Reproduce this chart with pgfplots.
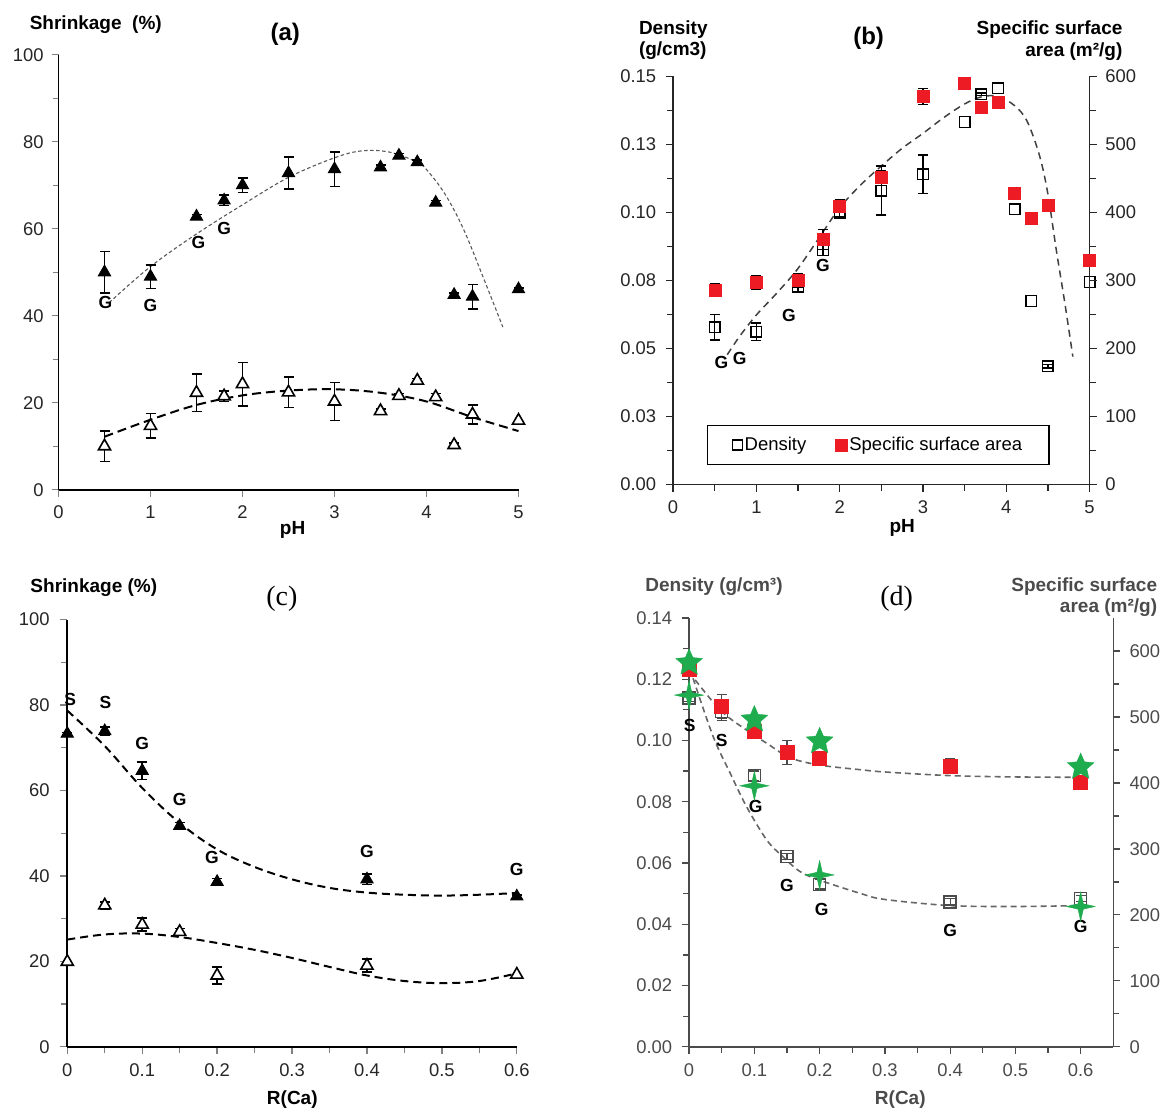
\documentclass[border=0pt]{standalone}
\usepackage{fontspec}
\setmainfont{Liberation Sans}
\newfontfamily\timesf{Liberation Serif}
\usepackage{pgfplots}
\pgfplotsset{compat=1.18}
\definecolor{ssared}{RGB}{237,28,36}
\definecolor{stargreen}{RGB}{30,172,78}
\definecolor{axgray}{RGB}{75,75,75}

\newcommand\tkf{\fontsize{18.4}{20}\selectfont}
\newcommand\ttl{\fontsize{19}{22}\selectfont\bfseries}
\newcommand\glf{\fontsize{17.5}{20}\selectfont\bfseries}
\newcommand\lgf{\fontsize{18.5}{21}\selectfont}

\pgfdeclareplotmark{fivestar}{%
  \pgfmathsetlengthmacro\pgfstarin{0.46*\pgfplotmarksize}%
  \pgfpathmoveto{\pgfpointpolar{90}{\pgfplotmarksize}}%
  \pgfpathlineto{\pgfpointpolar{126}{\pgfstarin}}%
  \pgfpathlineto{\pgfpointpolar{162}{\pgfplotmarksize}}%
  \pgfpathlineto{\pgfpointpolar{198}{\pgfstarin}}%
  \pgfpathlineto{\pgfpointpolar{234}{\pgfplotmarksize}}%
  \pgfpathlineto{\pgfpointpolar{270}{\pgfstarin}}%
  \pgfpathlineto{\pgfpointpolar{306}{\pgfplotmarksize}}%
  \pgfpathlineto{\pgfpointpolar{342}{\pgfstarin}}%
  \pgfpathlineto{\pgfpointpolar{18}{\pgfplotmarksize}}%
  \pgfpathlineto{\pgfpointpolar{54}{\pgfstarin}}%
  \pgfpathclose
  \pgfusepathqfillstroke}
\pgfdeclareplotmark{fourstar}{%
  \pgfmathsetlengthmacro\pgfstarin{0.26*\pgfplotmarksize}%
  \pgfpathmoveto{\pgfpointpolar{90}{\pgfplotmarksize}}%
  \pgfpathlineto{\pgfpointpolar{135}{\pgfstarin}}%
  \pgfpathlineto{\pgfpointpolar{180}{\pgfplotmarksize}}%
  \pgfpathlineto{\pgfpointpolar{225}{\pgfstarin}}%
  \pgfpathlineto{\pgfpointpolar{270}{\pgfplotmarksize}}%
  \pgfpathlineto{\pgfpointpolar{315}{\pgfstarin}}%
  \pgfpathlineto{\pgfpointpolar{0}{\pgfplotmarksize}}%
  \pgfpathlineto{\pgfpointpolar{45}{\pgfstarin}}%
  \pgfpathclose
  \pgfusepathqfillstroke}

\tikzset{gl/.style={font=\glf, inner sep=0pt}}
\pgfplotsset{
  panel/.style={
    scale only axis, enlargelimits=false, clip=false, anchor=south west,
    axis line style={line width=1.6pt},
    tick align=outside, major tick length=7pt, minor tick length=6pt,
    tick style={line width=1.3pt},
    tick label style={font=\tkf, text=black!85, inner sep=0pt},
    xticklabel style={anchor=north},
    /pgf/number format/assume math mode=true,
  },
  ebars/.style={/pgfplots/error bars/y dir=both, /pgfplots/error bars/y explicit,
     /pgfplots/error bars/error bar style={line width=#1},
     /pgfplots/error bars/error mark options={rotate=90, mark size=5pt, line width=#1}},
  ftri/.style={only marks, mark=triangle*, mark size=7pt, black, line width=1pt},
  otri/.style={only marks, mark=triangle*, mark size=7pt, black, mark options={fill=white, draw=black, line width=1.6pt}},
}

\begin{document}
\begin{tikzpicture}
\useasboundingbox (0pt,0pt) rectangle (1164pt,-1110pt);

% ---------------- (a) ----------------
\begin{axis}[panel, at={(58.5pt,-489.8pt)}, width=460pt, height=435.1pt,
  xmin=0, xmax=5, ymin=0, ymax=100, axis x line*=bottom, axis y line*=left,
  xtick={0,1,2,3,4,5}, ytick={0,20,40,60,80,100}, minor ytick={10,30,50,70,90},
  yticklabel style={anchor=east, xshift=-7.8pt}, xticklabel style={yshift=-9pt}]
\addplot[smooth, tension=0.6, draw=black!65, line width=1.1pt, dash pattern=on 3.5pt off 2.5pt] coordinates {
(0.55,43.0) (1.0,51.3) (1.5,58.8) (2.0,65.5) (2.5,71.8) (3.0,76.3) (3.3,77.9) (3.6,77.6) (3.9,75.3) (4.0,73.6) (4.2,68.0) (4.4,60.0) (4.6,49.7) (4.83,37.4)};
\addplot[smooth, tension=0.6, draw=black, line width=2pt, dash pattern=on 9pt off 5pt] coordinates {
(0.5,12.2) (1,16.1) (1.5,19.5) (2,21.7) (2.5,22.8) (3,23.1) (3.5,22.3) (4,20.3) (4.5,16.7) (5,13.5)};
\addplot[ftri, ebars=1.6pt] table[y error index=2] {
x y e
0.5 50 4.8
1.0 49 2.7
1.5 62.8 0.5
1.8 66.5 1.2
2.0 70 1.7
2.5 72.8 3.7
3.0 73.7 4.0
3.5 74.1 0.5
3.7 76.8 0.5
3.9 75.3 0.5
4.1 66 0.5
4.3 44.8 0.5
4.5 44.4 2.8
5.0 46.1 0.3
};
\addplot[otri, ebars=1.6pt] table[y error index=2] {
x y e
0.5 10 3.5
1.0 14.7 2.8
1.5 22.3 4.3
1.8 21.5 1.2
2.0 24.3 5
2.5 22.4 3.5
3.0 20.3 4.4
3.5 18.1 0.5
3.7 21.6 0.5
3.9 25.1 0.5
4.1 21.3 0.8
4.3 10.3 0.5
4.5 17.3 2.2
};
\addplot[otri] coordinates {(5.0,15.9)};
\node[gl] at (axis cs:0.51,43.1) {G};
\node[gl] at (axis cs:1.0,42.4) {G};
\node[gl] at (axis cs:1.52,56.9) {G};
\node[gl] at (axis cs:1.8,60.1) {G};
\end{axis}

% ---------------- (b) ----------------
\begin{axis}[panel, at={(673.1pt,-484.6pt)}, width=416.4pt, height=408.4pt,
  xmin=0, xmax=5, ymin=0, ymax=0.15, axis x line*=bottom, axis y line*=left,
  axis line style={line width=1.5pt, black!85}, tick style={black!85},
  xtick={0,1,2,3,4,5}, minor xtick={0.5,1.5,2.5,3.5,4.5},
  ytick={0,0.025,0.05,0.075,0.1,0.125,0.15},
  yticklabels={0.00,0.03,0.05,0.08,0.10,0.13,0.15},
  minor ytick={0.0125,0.0375,0.0625,0.0875,0.1125,0.1375},
  yticklabel style={anchor=east, xshift=-9.8pt}, xticklabel style={yshift=-8.8pt}]
\addplot[smooth, tension=0.55, draw=black!75, line width=1.5pt, dash pattern=on 7pt off 5pt] coordinates {
(0.65,0.0477) (0.8,0.0545) (1.0,0.0623) (1.25,0.0705) (1.5,0.0794) (1.8,0.0928) (2.0,0.1017) (2.25,0.110) (2.5,0.117) (2.75,0.1235) (3.0,0.129) (3.25,0.1348) (3.5,0.1398) (3.7,0.1424) (3.9,0.1426) (4.1,0.1392) (4.25,0.1335) (4.4,0.1208) (4.5,0.1068) (4.6,0.0864) (4.7,0.0674) (4.8,0.047)};
\addplot[only marks, mark=square, mark size=5.3pt, black, line width=1.4pt, ebars=1.4pt] table[y error index=2] {
x y e
0.5 0.0578 0.0047
1.0 0.0562 0.0032
1.5 0.0727 0.0022
1.8 0.0862 0.0020
2.0 0.0998 0.0015
2.5 0.1080 0.0090
3.0 0.1140 0.0070
3.7 0.1434 0.0004
4.5 0.0435 0.0006
};
\addplot[only marks, mark=square, mark size=5.3pt, black, line width=1.4pt] coordinates {
(3.5,0.1332) (3.9,0.1456) (4.1,0.1011) (4.3,0.0674) (5.0,0.0744)};
\node[gl] at (axis cs:0.58,0.0447) {G};
\node[gl] at (axis cs:0.8,0.0464) {G};
\node[gl] at (axis cs:1.39,0.062) {G};
\node[gl] at (axis cs:1.8,0.0803) {G};
\end{axis}
\begin{axis}[panel, at={(673.1pt,-484.6pt)}, width=416.4pt, height=408.4pt,
  xmin=0, xmax=5, ymin=0, ymax=600, axis y line*=right, axis x line=none,
  axis line style={line width=1.5pt, black!85}, tick style={black!85},
  ytick={0,100,200,300,400,500,600}, minor ytick={50,150,250,350,450,550},
  yticklabel style={anchor=west, xshift=8.6pt},
  legend columns=2,
  legend image code/.code={\draw[mark repeat=2,mark phase=2,#1] plot coordinates {(-5pt,0pt) (0pt,0pt) (5pt,0pt)};},
  legend style={at={(0.493,0.097)}, anchor=center, draw=black, line width=1.5pt,
    font=\lgf, inner xsep=25pt, inner ysep=10pt, nodes={inner sep=2pt},
    /tikz/every even column/.append style={column sep=27pt}}]
\addlegendimage{only marks, mark=square, mark size=5pt, black, line width=1.4pt}
\addlegendentry{Density}
\addplot[only marks, mark=square*, mark size=6pt, ssared, line width=0.5pt, ebars=1.4pt,
  /pgfplots/error bars/error bar style={black, line width=1.4pt},
  /pgfplots/error bars/error mark options={rotate=90, mark size=5pt, black, line width=1.4pt}] table[y error index=2] {
x y e
0.5 286 9
1.0 297 9.5
1.5 300 10
1.8 360 15
2.0 409 9
2.5 452 9
3.0 570 12
3.5 590 0.1
3.7 554 0.1
3.9 561 0.1
4.1 428 0.1
4.3 392 0.1
4.5 410 0.1
5.0 330 0.1
};
\addlegendentry{Specific surface area}
\end{axis}

% ---------------- (c) ----------------
\begin{axis}[panel, at={(67.3pt,-1046.8pt)}, width=449.5pt, height=427.2pt,
  xmin=0, xmax=0.6, ymin=0, ymax=100, axis x line*=bottom, axis y line*=left,
  xtick={0,0.1,0.2,0.3,0.4,0.5,0.6}, minor xtick={0.05,0.15,0.25,0.35,0.45,0.55},
  ytick={0,20,40,60,80,100}, minor ytick={10,30,50,70,90},
  yticklabel style={anchor=east, xshift=-10.4pt}, xticklabel style={yshift=-9.9pt}]
\addplot[smooth, tension=0.6, draw=black, line width=2pt, dash pattern=on 8pt off 5pt] coordinates {
(0,78.7) (0.05,70.4) (0.1,60.6) (0.15,52.4) (0.2,46.2) (0.25,42.1) (0.3,39.2) (0.35,37.2) (0.4,36.1) (0.45,35.6) (0.5,35.4) (0.55,35.6) (0.6,36)};
\addplot[smooth, tension=0.6, draw=black, line width=2pt, dash pattern=on 8pt off 5pt] coordinates {
(0,25.1) (0.05,26.3) (0.1,26.5) (0.15,25.7) (0.2,24.3) (0.25,22.7) (0.3,20.8) (0.35,18.7) (0.4,16.7) (0.45,15.4) (0.5,14.9) (0.55,15.4) (0.6,17.2)};
\addplot[ftri, ebars=1.6pt] table[y error index=2] {
x y e
0 73.3 0.3
0.05 73.9 1
0.1 64.6 2
0.15 51.7 0.8
0.2 38.6 0.8
0.4 39.2 1.2
0.6 35.2 0.3
};
\addplot[otri, ebars=1.6pt] table[y error index=2] {
x y e
0.05 33.1 0.8
0.1 28.6 1.5
0.15 26.9 0.8
0.2 16.7 2
0.4 19 1.5
};
\addplot[otri] coordinates {(0,19.9) (0.6,16.9)};
\node[gl] at (axis cs:0.004,81.3) {S};
\node[gl] at (axis cs:0.051,80.5) {S};
\node[gl] at (axis cs:0.1,71.1) {G};
\node[gl] at (axis cs:0.15,58) {G};
\node[gl] at (axis cs:0.193,44.4) {G};
\node[gl] at (axis cs:0.4,45.8) {G};
\node[gl] at (axis cs:0.6,41.5) {G};
\end{axis}

% ---------------- (d) ----------------
\begin{axis}[panel, at={(689.1pt,-1046.8pt)}, width=424.2pt, height=428.9pt,
  xmin=0, xmax=0.65, ymin=0, ymax=0.14, axis x line*=bottom, axis y line*=left,
  axis line style={line width=1.6pt, axgray}, tick style={axgray},
  tick label style={text=axgray},
  xtick={0,0.1,0.2,0.3,0.4,0.5,0.6}, minor xtick={0.05,0.15,0.25,0.35,0.45,0.55},
  ytick={0,0.02,0.04,0.06,0.08,0.1,0.12,0.14},
  yticklabels={0.00,0.02,0.04,0.06,0.08,0.10,0.12,0.14},
  minor ytick={0.01,0.03,0.05,0.07,0.09,0.11,0.13},
  yticklabel style={anchor=east, xshift=-9.7pt}, xticklabel style={yshift=-9.9pt}]
\addplot[smooth, tension=0.55, draw=black!60, line width=1.6pt, dash pattern=on 6pt off 4pt] coordinates {
(0.006,0.1203) (0.037,0.1012) (0.063,0.0893) (0.088,0.0784) (0.119,0.0675) (0.144,0.062) (0.17,0.0572) (0.2,0.0544) (0.262,0.0501) (0.3,0.0481) (0.4,0.0461) (0.5,0.0458) (0.6,0.0461)};
\addplot[only marks, mark=square, mark size=6pt, axgray, line width=1.4pt, ebars=1.3pt] table[y error index=2] {
x y e
0 0.1138 0.001
0.05 0.1094 0.003
0.1 0.0885 0.0015
0.15 0.0621 0.001
0.2 0.0530 0.0015
0.4 0.0473 0.001
0.6 0.0484 0.001
};
\addplot[only marks, mark=fourstar, mark size=14.5pt, mark options={fill=stargreen, draw=stargreen, line width=0.4pt}] coordinates {
(0,0.1148) (0.1,0.0852) (0.2,0.0561) (0.6,0.0458)};
\node[gl] at (axis cs:0.001,0.105) {S};
\node[gl] at (axis cs:0.05,0.1001) {S};
\node[gl] at (axis cs:0.102,0.0784) {G};
\node[gl] at (axis cs:0.15,0.0528) {G};
\node[gl] at (axis cs:0.203,0.0447) {G};
\node[gl] at (axis cs:0.4,0.0381) {G};
\node[gl] at (axis cs:0.6,0.0393) {G};
\end{axis}
\begin{axis}[panel, at={(689.1pt,-1046.8pt)}, width=424.2pt, height=428.9pt,
  xmin=0, xmax=0.65, ymin=0, ymax=650, axis y line*=right, axis x line=none,
  axis line style={line width=1.6pt, axgray}, tick style={axgray},
  tick label style={text=axgray},
  ytick={0,100,200,300,400,500,600}, minor ytick={50,150,250,350,450,550},
  yticklabel style={anchor=west, xshift=9pt}]
\addplot[smooth, tension=0.55, draw=black!60, line width=1.6pt, dash pattern=on 6pt off 4pt] coordinates {
(0,568) (0.047,511) (0.088,480) (0.119,460) (0.155,438) (0.2,427) (0.262,420) (0.3,416.5) (0.4,411) (0.5,409) (0.6,408.5)};
\addplot[only marks, mark=square*, mark size=7pt, ssared, line width=0.5pt, ebars=1.3pt,
  /pgfplots/error bars/error bar style={axgray, line width=1.3pt},
  /pgfplots/error bars/error mark options={rotate=90, mark size=5pt, axgray, line width=1.3pt}] table[y error index=2] {
x y e
0 572 5
0.05 516 18
0.1 478 5
0.15 446 18
0.2 438 10
0.4 425 11
0.6 401 8
};
\addplot[only marks, mark=fivestar, mark size=14pt, mark options={fill=stargreen, draw=stargreen, line width=0.4pt}] coordinates {
(0,582) (0.1,496) (0.2,463) (0.6,424)};
\end{axis}

% ---------------- titles ----------------
\node[anchor=west, inner sep=0pt] at (29.6pt,-24.2pt) {\ttl Shrinkage\ \ (\%)};
\node at (285.2pt,-34.6pt) {\fontsize{24}{26}\selectfont\bfseries (a)};
\node at (292.6pt,-529.6pt) {\ttl pH};

\node[anchor=west, inner sep=0pt] at (638.8pt,-29.4pt) {\ttl Density};
\node[anchor=west, inner sep=0pt] at (638.8pt,-50.2pt) {\ttl (g/cm3)};
\node at (868.6pt,-38.1pt) {\fontsize{24}{26}\selectfont\bfseries (b)};
\node[anchor=east, inner sep=0pt] at (1122.6pt,-29.4pt) {\ttl Specific surface};
\node[anchor=east, inner sep=0pt] at (1122.6pt,-51.2pt) {\ttl area (m²/g)};
\node at (902.2pt,-527.9pt) {\ttl pH};

\node[anchor=west, inner sep=0pt] at (30.3pt,-588.1pt) {\ttl Shrinkage (\%)};
\node at (281.9pt,-598.6pt) {\fontsize{28}{30}\selectfont\timesf (c)};
\node at (292.3pt,-1099.5pt) {\ttl R(Ca)};

\node[anchor=west, inner sep=0pt, text=axgray] at (645.2pt,-586.3pt) {\ttl Density (g/cm³)};
\node at (896.6pt,-598.6pt) {\fontsize{28}{30}\selectfont\timesf (d)};
\node[anchor=east, inner sep=0pt, text=axgray] at (1157.3pt,-586.3pt) {\ttl Specific surface};
\node[anchor=east, inner sep=0pt, text=axgray] at (1157.3pt,-607.4pt) {\ttl area (m²/g)};
\node[text=axgray] at (900.3pt,-1099.5pt) {\ttl R(Ca)};
\end{tikzpicture}
\end{document}
